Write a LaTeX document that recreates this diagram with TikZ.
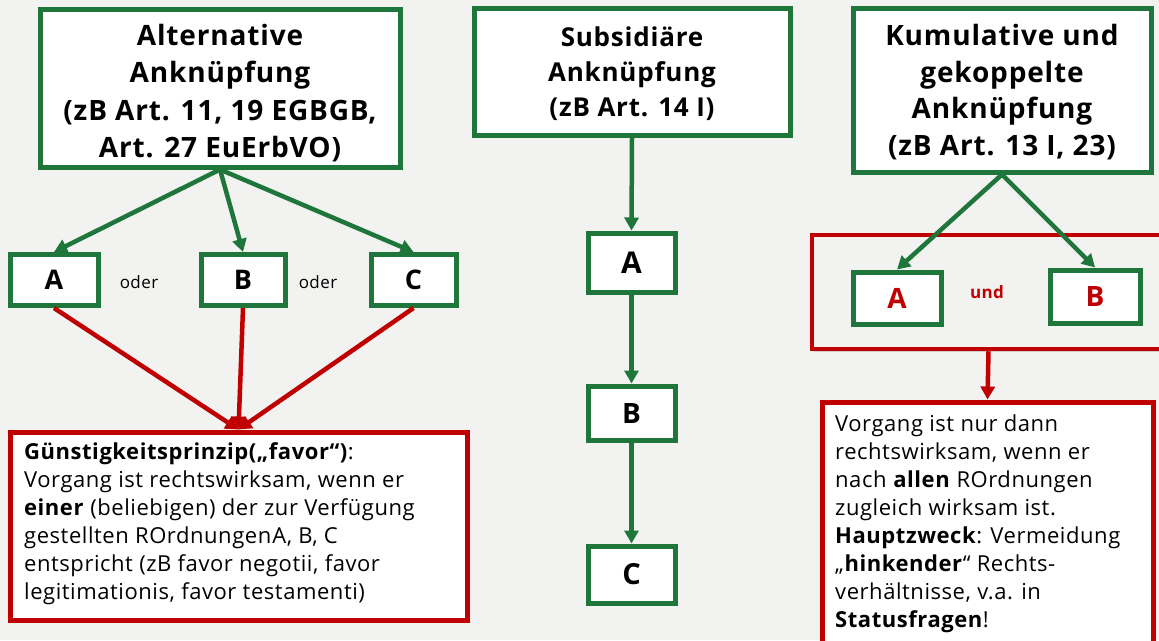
\documentclass[tikz,border=0pt]{standalone}
\usepackage{fontspec}
\setmainfont{Open Sans}
\newfontfamily\titlefont[LetterSpace=3]{Open Sans}
\newfontfamily\bodyfont[LetterSpace=2.5]{Open Sans}
\usetikzlibrary{arrows.meta,calc,shadows}
\definecolor{bg}{RGB}{242,242,240}
\definecolor{gr}{RGB}{30,118,58}
\definecolor{rd}{RGB}{192,0,0}
\tikzset{
  gbox/.style={draw=gr,line width=5pt,fill=white,inner sep=0pt},
  ttext/.style={align=center,inner sep=0pt},
  lbox/.style={draw=gr,line width=5pt,fill=white,inner sep=0pt,font=\bfseries},
  rbox/.style={draw=rd,line width=5pt,fill=white,inner sep=0pt},
  btext/.style={anchor=north west,align=left,inner sep=0pt,
    font=\bodyfont\fontsize{22}{28}\selectfont},
  garrow/.style={draw=gr,line width=4.5pt,-{Triangle[length=13pt,width=14pt]}},
  rarrow/.style={draw=rd,line width=4.5pt,-{Triangle[length=13pt,width=14pt]}},
  smalltxt/.style={font=\bodyfont\fontsize{17}{18}\selectfont,inner sep=0pt}
}
\begin{document}
\begin{tikzpicture}[x=1pt,y=-1pt]
\fill[bg] (0,0) rectangle (1159,640);
\useasboundingbox (0,0) rectangle (1159,640);

% ---- left column
\node[gbox,minimum width=360pt,minimum height=158pt] (T1) at (220,88) {};
\node[ttext,font=\titlefont\bfseries\fontsize{28}{37.5}\selectfont] (T1t) at (220,93)
  {Alternative\\Anknüpfung\\(zB Art. 11, 19 EGBGB,\\Art. 27 EuErbVO)};
\node[lbox,font=\bfseries\fontsize{27}{30}\selectfont,minimum width=88pt,minimum height=51pt] (A1) at (54,280) {A};
\node[lbox,font=\bfseries\fontsize{27}{30}\selectfont,minimum width=84pt,minimum height=51pt] (B1) at (243,280) {B};
\node[lbox,font=\bfseries\fontsize{27}{30}\selectfont,minimum width=85pt,minimum height=51pt] (C1) at (413.5,280) {C};
\node[smalltxt] (o1) at (139,282) {oder};
\node[smalltxt] (o2) at (318,282) {oder};
\node[rbox,minimum width=457pt,minimum height=188pt] (R1) at (238.5,526) {};
\node[btext] (R1t) at (24,442) {%
\textbf{Günstigkeitsprinzip(„favor“)}:\\
Vorgang ist rechtswirksam, wenn er\\
\textbf{einer} (beliebigen) der zur Verfügung\\
gestellten ROrdnungen\kern1pt A, B, C\\
entspricht (zB favor negotii, favor\\
legitimationis, favor testamenti)};
\draw[garrow] (T1.south) -- (A1.north);
\draw[garrow] (T1.south) -- (B1.north);
\draw[garrow] (T1.south) -- (C1.north);
\draw[rarrow] (A1.south) -- (R1.north);
\draw[rarrow] (B1.south) -- (R1.north);
\draw[rarrow] (C1.south) -- (R1.north);

% ---- middle column
\node[gbox,minimum width=316pt,minimum height=127pt] (T2) at (632,71.5) {};
\node[ttext,font=\titlefont\bfseries\fontsize{26}{35}\selectfont] (T2t) at (632,74)
  {Subsidiäre\\Anknüpfung\\(zB Art. 14 I)};
\node[lbox,font=\bfseries\fontsize{30}{32}\selectfont,minimum width=87pt,minimum height=59pt] (A2) at (631.5,262.5) {A};
\node[lbox,font=\bfseries\fontsize{28}{30}\selectfont,minimum width=87pt,minimum height=54pt] (B2) at (631.5,413) {B};
\node[lbox,font=\bfseries\fontsize{29}{31}\selectfont,minimum width=87pt,minimum height=57pt] (C2) at (631.5,574.5) {C};
\draw[garrow] (T2.south) -- (A2.north);
\draw[garrow] (A2.south) -- (B2.north);
\draw[garrow] (B2.south) -- (C2.north);

% ---- right column
\node[gbox,minimum width=298pt,minimum height=164pt] (T3) at (1002,90) {};
\node[ttext,font=\titlefont\bfseries\fontsize{28}{36.7}\selectfont] (T3t) at (1002,92)
  {Kumulative und\\gekoppelte\\Anknüpfung\\(zB Art. 13 I, 23)};
\node[draw=rd,line width=4.5pt,fill=bg,minimum width=353pt,minimum height=114pt,
  inner sep=0pt,drop shadow={shadow xshift=2pt,shadow yshift=-3pt,opacity=0.3}]
  (G) at (988.5,292) {};
\node[lbox,text=rd,font=\bfseries\fontsize{28}{30}\selectfont,minimum width=88pt,minimum height=52pt] (A3) at (897,298) {A};
\node[lbox,text=rd,font=\bfseries\fontsize{28}{30}\selectfont,minimum width=90pt,minimum height=53pt] (B3) at (1095,296.5) {B};
\node[font=\bodyfont\fontsize{17}{18}\selectfont\bfseries,text=rd,inner sep=0pt] (und) at (987,292) {und};
\draw[garrow] (T3.south) -- (A3.north);
\draw[garrow] (T3.south) -- (B3.north);
\node[rbox,minimum width=331pt,minimum height=258pt] (R3) at (987.5,531) {};
\draw[rarrow] (G.south) -- (R3.north);
\node[btext] (R3t) at (835,415) {%
Vorgang ist nur dann\\
rechtswirksam, wenn er\\
nach \textbf{allen} ROrdnungen\\
zugleich wirksam ist.\\
\textbf{Hauptzweck}: Vermeidung\\
„\textbf{hinkender}“ Rechts-\\
verhältnisse, v.a. in\\
\textbf{Statusfragen}!};
\end{tikzpicture}
\end{document}
